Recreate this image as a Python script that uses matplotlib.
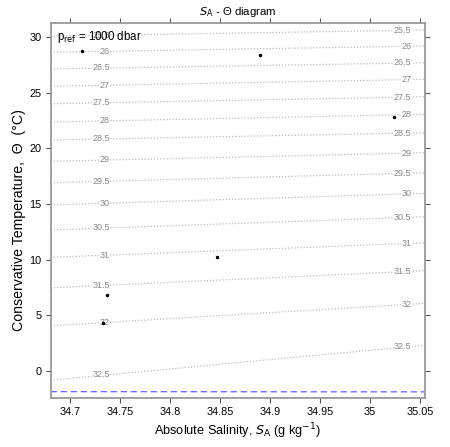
import numpy as np
import matplotlib
matplotlib.use("Agg")
import matplotlib.pyplot as plt

plt.rcParams['font.family'] = ['Liberation Sans', 'DejaVu Sans']

# observations (Absolute Salinity, Conservative Temperature)
sa_obs = [34.7117, 34.890, 35.024, 34.8467, 34.7367, 34.7333]
ct_obs = [28.79, 28.43, 22.80, 10.20, 6.80, 4.31]

# sigma-1 isopycnals: where each one crosses the left / right edge of the plot
sigma_levels = [25.5, 26, 26.5, 27, 27.5, 28, 28.5, 29, 29.5, 30, 30.5, 31, 31.5, 32, 32.5]
ct_left = [30.10, 28.65, 27.15, 25.59, 24.02, 22.38, 20.76, 18.84, 16.91, 14.91,
           12.66, 10.20, 7.46, 4.04, -0.85]
ct_right = [30.66, 29.22, 27.71, 26.22, 24.65, 23.07, 21.41, 19.61, 17.81, 15.96,
            13.85, 11.51, 9.00, 6.06, 2.30]
sa_edges = [34.6807, 35.055]

# freezing line (CT at freezing, p = 0)
freeze_ct = [-1.886, -1.905]

fig = plt.figure(figsize=(4.5, 4.47), dpi=100)
ax = fig.add_axes([0.1127, 0.1103, 0.8317, 0.8376])

for lev, tl, tr in zip(sigma_levels, ct_left, ct_right):
    ax.plot(sa_edges, [tl, tr], color='#bbbbbb', lw=0.9, ls=(0, (1, 1.5)), zorder=1)
    for xs in (34.740, 35.0415):
        yl = np.interp(xs, sa_edges, [tl, tr])
        if yl > 31.3:
            continue
        ax.text(xs, yl, f"{lev:g}", ha='right', va='center', fontsize=6.5, color='#888888',
                bbox=dict(facecolor='white', edgecolor='none', pad=0.3), zorder=2)

ax.plot(sa_edges, freeze_ct, color='#6060ff', lw=0.9, ls=(0, (5, 3)), zorder=2)
ax.plot(sa_obs, ct_obs, 'o', color='black', ms=1.5, zorder=5)

ax.text(0.017, 0.985, r"p$_{\rm ref}$ = 1000 dbar", transform=ax.transAxes,
        ha='left', va='top', fontsize=8.3, zorder=3)

ax.set_xlim(34.6807, 35.055)
ax.set_ylim(-2.43, 31.26)
ax.set_xticks([34.7, 34.75, 34.8, 34.85, 34.9, 34.95, 35.0, 35.05])
ax.set_xticklabels(['34.7', '34.75', '34.8', '34.85', '34.9', '34.95', '35', '35.05'])
ax.set_yticks([0, 5, 10, 15, 20, 25, 30])

ax.tick_params(direction='out', length=3.5, width=0.8, color='#555555', pad=3,
               labelsize=7.8, top=True, right=True, labeltop=False, labelright=False)
for sp in ax.spines.values():
    sp.set_color('#999999')
    sp.set_linewidth(1.3)

ax.set_xlabel(r"Absolute Salinity, $S_\mathrm{A}$ (g kg$^{-1}$)", fontsize=9.2)
ax.xaxis.set_label_coords(0.5, -0.063)
ax.set_ylabel("Conservative Temperature,  Θ  (°C)", fontsize=10.2)
ax.yaxis.set_label_coords(-0.066, 0.475)
ax.set_title(r"$S_\mathrm{A}$ - Θ diagram", fontsize=8.2, pad=6)

fig.savefig("out.png", dpi=100)
